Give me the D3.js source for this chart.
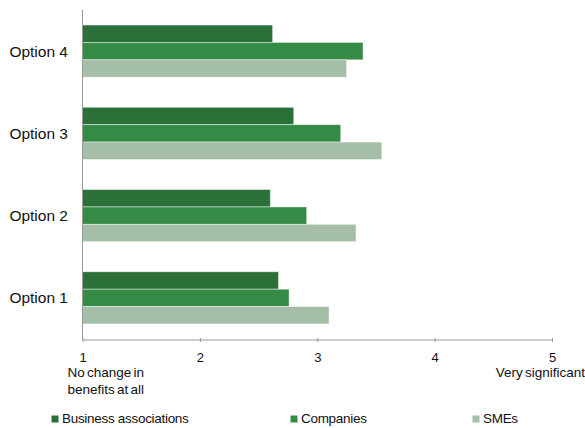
<!DOCTYPE html>
<html>
<head>
<meta charset="utf-8">
<script src="https://cdn.jsdelivr.net/npm/d3@7"></script>
<style>
  html, body { margin: 0; padding: 0; background: #fff; }
  svg { display: block; font-family: "Liberation Sans", Arial, sans-serif; }
</style>
</head>
<body>
<svg id="chart" width="585" height="428"></svg>
<script>
const categories = ["Option 4", "Option 3", "Option 2", "Option 1"];
const seriesNames = ["Business associations", "Companies", "SMEs"];
const businessAssociations = [2.62, 2.80, 2.60, 2.67];
const companies = [3.39, 3.20, 2.91, 2.76];
const smes = [3.25, 3.55, 3.33, 3.10];
const tickValues = [1, 2, 3, 4, 5];
const colors = ["#2b7039", "#358a46", "#a4bea7"];

const seriesValues = [businessAssociations, companies, smes];

const svg = d3.select("#chart");
const x = d3.scaleLinear().domain([1, 5]).range([82.5, 552]);
const y = d3.scaleBand().domain(categories).range([10, 339])
  .paddingInner(0.366).paddingOuter(0.183);
const sub = d3.scaleBand().domain(seriesNames).range([0, y.bandwidth()]);

// bars
const groups = svg.append("g").selectAll("g")
  .data(categories).join("g")
  .attr("transform", d => `translate(0,${y(d)})`);

groups.selectAll("rect")
  .data((c, i) => seriesNames.map((s, j) => ({ s, v: seriesValues[j][i], j })))
  .join("rect")
  .attr("x", x(1))
  .attr("y", d => sub(d.s))
  .attr("width", d => x(d.v) - x(1))
  .attr("height", sub.bandwidth())
  .attr("fill", d => colors[d.j])
  .attr("stroke", "rgba(255,255,255,0.55)")
  .attr("stroke-width", 0.8);

// x axis
const xAxis = svg.append("g")
  .attr("transform", "translate(0,339.5)")
  .call(d3.axisBottom(x).tickValues(tickValues).tickFormat(d3.format("d"))
    .tickSize(4).tickSizeOuter(0).tickPadding(9));
xAxis.select(".domain").attr("stroke", "#999");
xAxis.selectAll(".tick line").attr("stroke", "#999").attr("transform", "translate(0,-1.5)");
xAxis.selectAll(".tick text")
  .attr("font-size", 13)
  .attr("fill", "#111")
  .attr("font-family", "'Liberation Sans', Arial, sans-serif");

// y axis line
svg.append("line")
  .attr("x1", x(1)).attr("x2", x(1))
  .attr("y1", 10).attr("y2", 339.5)
  .attr("stroke", "#999").attr("stroke-width", 1);

// category labels
svg.append("g").selectAll("text")
  .data(categories).join("text")
  .attr("x", 68)
  .attr("y", d => y(d) + y.bandwidth() / 2)
  .attr("dy", "0.35em")
  .attr("text-anchor", "end")
  .attr("font-size", 15.5)
  .attr("fill", "#111")
  .text(d => d);

// axis end descriptions
const desc = svg.append("g").attr("font-size", 13.5).attr("fill", "#111")
  .attr("word-spacing", "-1.5px");
desc.append("text").attr("x", 67.5).attr("y", 377).text("No change in");
desc.append("text").attr("x", 67.5).attr("y", 394).text("benefits at all");
desc.append("text").attr("x", 585).attr("y", 377).attr("text-anchor", "end").text("Very significant");

// legend
const legendX = [51.5, 290.5, 472.5];
const legend = svg.append("g").selectAll("g")
  .data(seriesNames).join("g")
  .attr("transform", (d, i) => `translate(${legendX[i]},415.5)`);
legend.append("rect")
  .attr("width", 7).attr("height", 7)
  .attr("fill", (d, i) => colors[i]);
legend.append("text")
  .attr("x", 10.5).attr("y", 7)
  .attr("font-size", 13.5)
  .attr("letter-spacing", "-0.3px")
  .attr("fill", "#111")
  .text(d => d);
</script>
</body>
</html>
